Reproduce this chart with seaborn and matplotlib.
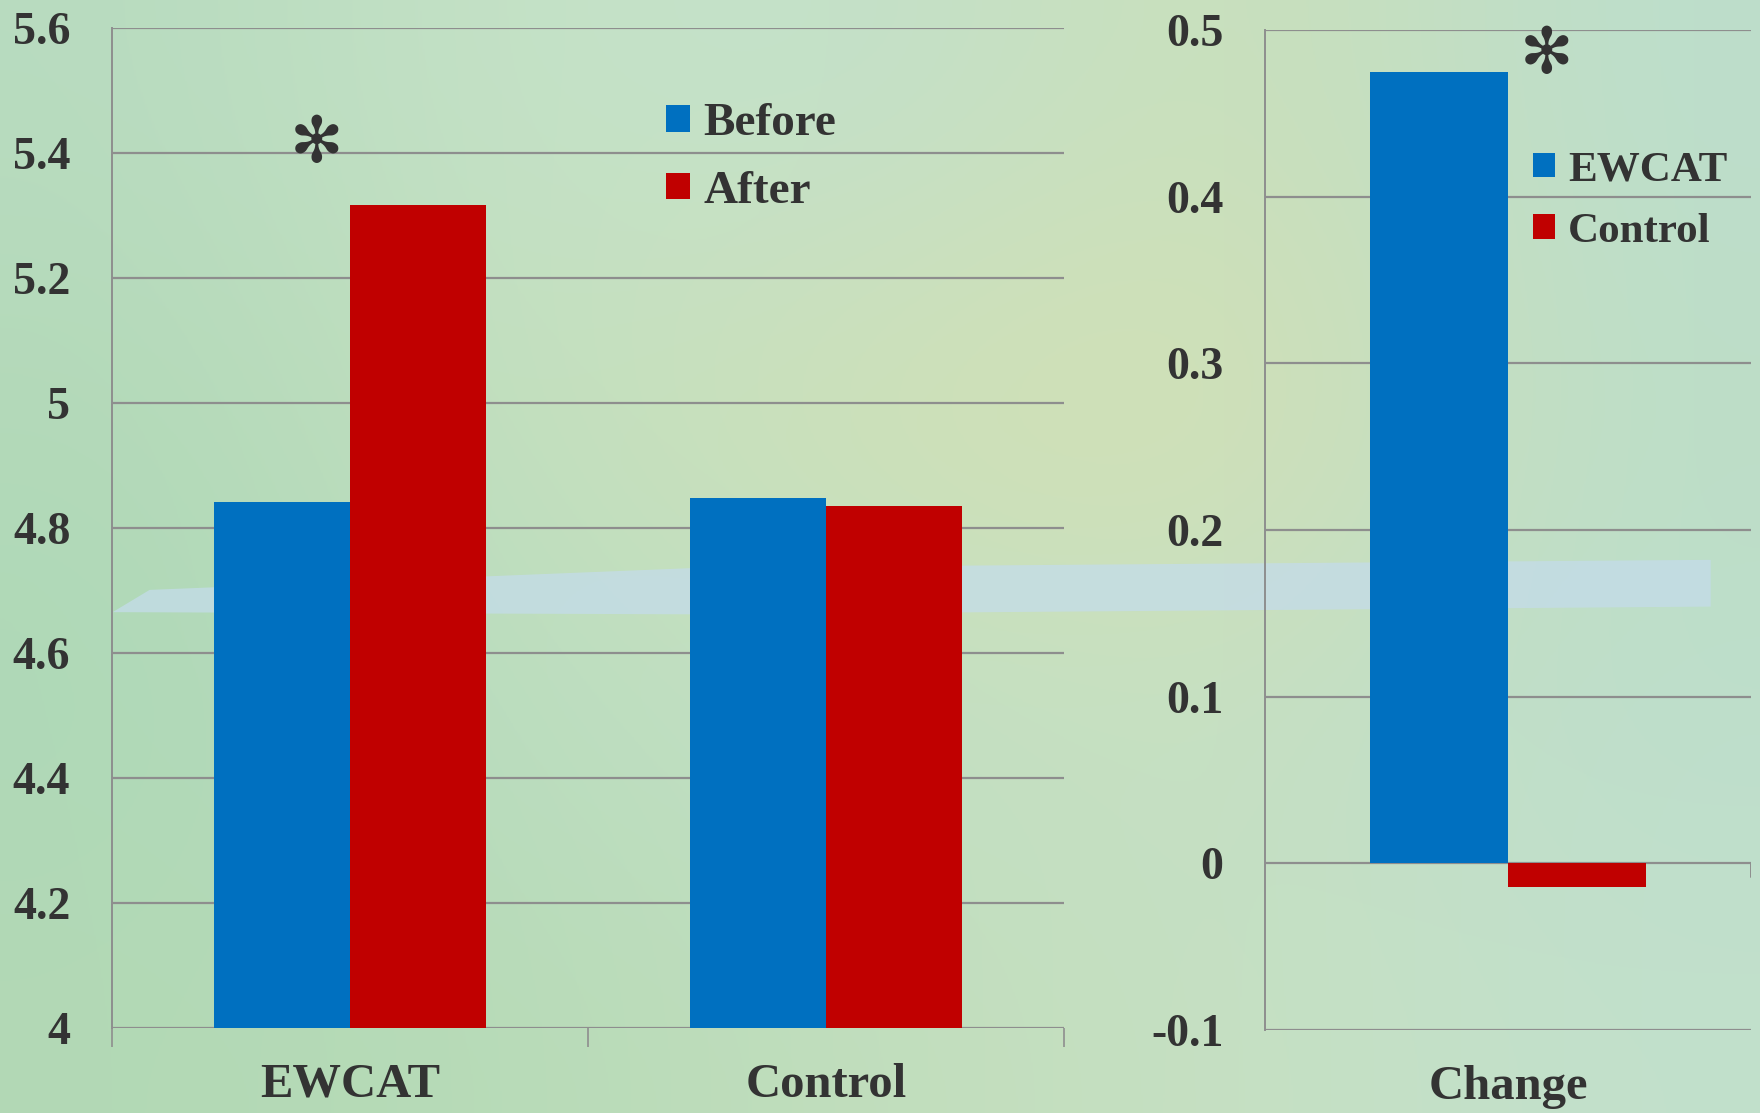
"""
Before/after comparison of EWCAT vs Control, plus the change score panel.
Saves out.png (1760x1113).
"""

import matplotlib.pyplot as plt
import numpy as np
import pandas as pd
import seaborn as sns
from matplotlib.patches import Polygon
from matplotlib.ticker import FuncFormatter, MultipleLocator


GROUPS = ["EWCAT", "Control"]
TIMES = ["Before", "After"]
BEFORE = [4.842, 4.848]
AFTER = [5.316, 4.835]

CHANGE_LABEL = ["Change", "Change"]
CHANGE_GROUPS = ["EWCAT", "Control"]
CHANGE = [0.475, -0.014]

BLUE = "#0070C0"
RED = "#C00000"
GRID = "#8E8E8E"
TEXT = "#333333"


def fmt(v, _pos):
    return f"{v:g}"


def draw_background(fig):
    # soft green/teal wash behind the whole slide
    bg = fig.add_axes([0, 0, 1, 1], zorder=-10)
    colors = np.array([
        [[0.72, 0.86, 0.75], [0.78, 0.89, 0.78], [0.76, 0.88, 0.80], [0.80, 0.88, 0.72], [0.74, 0.87, 0.80]],
        [[0.70, 0.85, 0.72], [0.77, 0.88, 0.75], [0.82, 0.88, 0.70], [0.84, 0.88, 0.70], [0.74, 0.87, 0.78]],
        [[0.68, 0.85, 0.72], [0.74, 0.87, 0.76], [0.76, 0.88, 0.78], [0.78, 0.88, 0.76], [0.74, 0.87, 0.80]],
        [[0.70, 0.85, 0.71], [0.72, 0.86, 0.72], [0.76, 0.87, 0.74], [0.78, 0.88, 0.76], [0.76, 0.88, 0.80]],
    ])
    bg.imshow(colors, aspect="auto", interpolation="bicubic", extent=[0, 1, 0, 1])
    band = Polygon(
        [[0.064, 0.45], [0.085, 0.47], [0.40, 0.49], [0.972, 0.497], [0.972, 0.455], [0.40, 0.448]],
        closed=True, facecolor="#c4dcea", edgecolor="none", alpha=0.75,
        transform=bg.transAxes,
    )
    bg.add_patch(band)
    bg.set_xlim(0, 1)
    bg.set_ylim(0, 1)
    bg.axis("off")


def style_axis(ax):
    ax.set_axisbelow(True)
    ax.yaxis.grid(True, color=GRID, linewidth=1.6)
    ax.xaxis.grid(False)
    for side in ("top", "right", "bottom"):
        ax.spines[side].set_visible(False)
    ax.spines["left"].set_color(GRID)
    ax.spines["left"].set_linewidth(1.4)
    ax.set_facecolor("none")
    ax.set_xlabel("")
    ax.set_ylabel("")
    ax.yaxis.set_major_formatter(FuncFormatter(fmt))
    ax.tick_params(axis="y", length=0, pad=30, labelsize=33, labelcolor=TEXT)
    ax.tick_params(axis="x", which="major", length=0, pad=25, labelsize=35, labelcolor=TEXT)
    for lab in ax.get_xticklabels() + ax.get_yticklabels():
        lab.set_fontweight("bold")


def make_legend(ax, anchor, size):
    handles, labels = ax.get_legend_handles_labels()
    leg = ax.legend(
        handles, labels, loc="upper left", bbox_to_anchor=anchor,
        frameon=False, handlelength=0.5, handleheight=0.5,
        handletextpad=0.3, labelspacing=0.55, borderaxespad=0,
        prop={"weight": "bold", "size": size},
    )
    for t in leg.get_texts():
        t.set_color(TEXT)


def main():
    sns.set_theme(style="white")
    plt.rcParams["font.family"] = ["Liberation Serif", "DejaVu Sans"]

    scores = pd.DataFrame({
        "group": GROUPS * 2,
        "time": [TIMES[0]] * len(GROUPS) + [TIMES[1]] * len(GROUPS),
        "score": BEFORE + AFTER,
    })
    changes = pd.DataFrame({
        "label": CHANGE_LABEL,
        "group": CHANGE_GROUPS,
        "change": CHANGE,
    })

    fig = plt.figure(figsize=(17.6, 11.13), dpi=100)
    draw_background(fig)

    # left panel: raw scores
    ax1 = fig.add_axes([0.0636, 0.0764, 0.541, 0.8985])
    sns.barplot(
        data=scores, x="group", y="score", hue="time", order=GROUPS,
        hue_order=TIMES, palette=[BLUE, RED], width=0.57, saturation=1,
        linewidth=0, ax=ax1,
    )
    ax1.set_ylim(4, 5.6)
    ax1.set_xlim(-0.5, 1.5)
    ax1.yaxis.set_major_locator(MultipleLocator(0.2))
    style_axis(ax1)
    ax1.set_xticks([-0.5, 0.5, 1.5], minor=True)
    ax1.tick_params(axis="x", which="minor", direction="out", length=14,
                    width=1.2, color=GRID, bottom=True)
    make_legend(ax1, (0.562, 0.944), 34)
    ax1.text(-0.07, 5.415, "\u273B", family="DejaVu Sans", fontsize=46,
             color=TEXT, ha="center", va="center", fontweight="bold")

    # right panel: change scores
    ax2 = fig.add_axes([0.7188, 0.0746, 0.276, 0.8985])
    sns.barplot(
        data=changes, x="label", y="change", hue="group",
        hue_order=CHANGE_GROUPS, palette=[BLUE, RED], width=0.57,
        saturation=1, linewidth=0, ax=ax2,
    )
    ax2.set_ylim(-0.1, 0.5)
    ax2.set_xlim(-0.5, 0.5)
    ax2.yaxis.set_major_locator(MultipleLocator(0.1))
    style_axis(ax2)
    ax2.axvline(0.5, ymin=1 / 6 - 0.014, ymax=1 / 6, color=GRID, linewidth=1.4)
    make_legend(ax2, (0.517, 0.896), 31)
    ax2.text(0.08, 0.485, "\u273B", family="DejaVu Sans", fontsize=46,
             color=TEXT, ha="center", va="center", fontweight="bold")

    fig.savefig("out.png", dpi=100)
    plt.close(fig)


if __name__ == "__main__":
    main()
